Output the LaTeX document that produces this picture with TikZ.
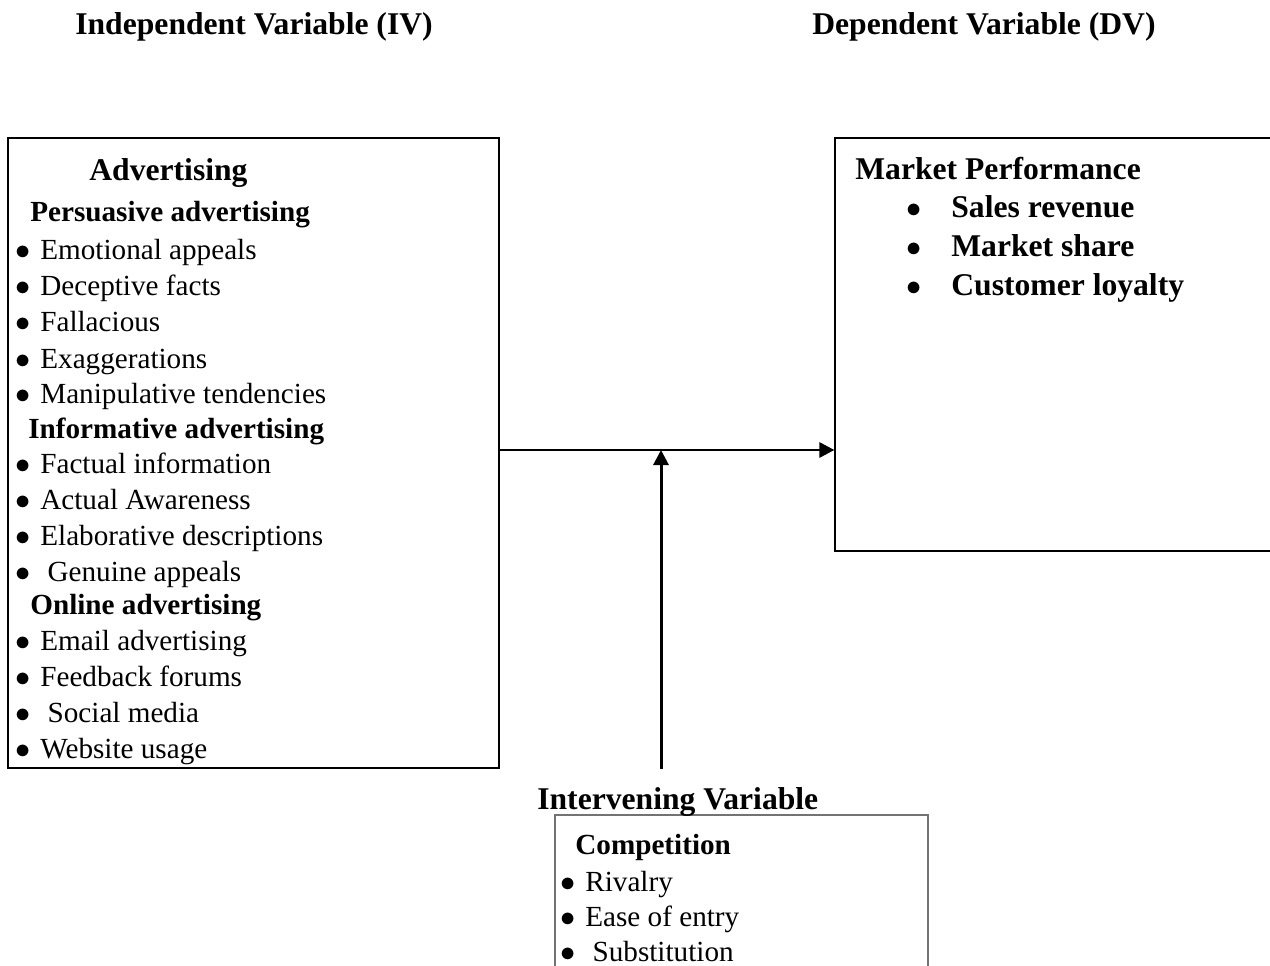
\documentclass[tikz,border=0pt]{standalone}
\usepackage{fontspec}
\setmainfont{Liberation Serif}
\usetikzlibrary{arrows.meta}
\newcommand{\blt}{\makebox[0.5cm][l]{$\bullet$}}
\newcommand{\bltr}{\makebox[0.9cm][l]{$\bullet$}}
\tikzset{
  box1/.style = {
    shape = rectangle,
    draw = black,
    line width = 0.9pt,
    inner sep = 0pt,
  }
}
\tikzset{
  title1/.style = {anchor = base west, inner sep = 0pt, font = \fontsize{18}{21}\selectfont\bfseries},
  head1/.style = {anchor = base west, inner sep = 0pt, font = \fontsize{16.6}{20}\selectfont\bfseries},
  item1/.style = {anchor = base west, inner sep = 0pt, font = \fontsize{16.6}{20}\selectfont},
}
\tikzset{
  arrow1/.style = {
    draw = black, line width = 1.7pt, -{Triangle[length = 3mm, width = 3mm]},
  }
}
\begin{document}
\begin{tikzpicture}
        \useasboundingbox (0,0) rectangle (25.4,-19.32);
        \node[box1, minimum width = 9.82cm, minimum height = 12.6cm](adv) at (5.07,-9.06){};
        \node[box1, line width = 0.7pt, minimum width = 9.3cm, minimum height = 8.26cm](perf) at (21.35,-6.89){};
        \node[box1, draw = black!55, line width = 0.6pt, minimum width = 7.46cm, minimum height = 3.7cm](comp) at (14.83,-18.15){};
        \node[title1](ivtitle) at (1.5,-0.70){Independent Variable (IV)};
        \node[title1](dvtitle) at (16.24,-0.70){Dependent Variable (DV)};
        \node[title1](advhead) at (1.78,-3.62){Advertising};
        \node[head1](pers) at (0.6,-4.44){Persuasive advertising};
        \node[item1](p1) at (0.3,-5.20){\blt Emotional appeals};
        \node[item1](p2) at (0.3,-5.92){\blt Deceptive facts};
        \node[item1](p3) at (0.3,-6.64){\blt Fallacious};
        \node[item1](p4) at (0.3,-7.36){\blt Exaggerations};
        \node[item1](p5) at (0.3,-8.08){\blt Manipulative tendencies};
        \node[head1](info) at (0.56,-8.76){Informative advertising};
        \node[item1](i1) at (0.3,-9.46){\blt Factual information};
        \node[item1](i2) at (0.3,-10.18){\blt Actual Awareness};
        \node[item1](i3) at (0.3,-10.90){\blt Elaborative descriptions};
        \node[item1](i4) at (0.3,-11.62){\blt\ Genuine appeals};
        \node[head1](onl) at (0.6,-12.28){Online advertising};
        \node[item1](o1) at (0.3,-13.00){\blt Email advertising};
        \node[item1](o2) at (0.3,-13.72){\blt Feedback forums};
        \node[item1](o3) at (0.3,-14.44){\blt\ Social media};
        \node[item1](o4) at (0.3,-15.16){\blt Website usage};
        \node[title1](mp) at (17.10,-3.60){Market Performance};
        \node[title1](m1) at (18.12,-4.36){\bltr Sales revenue};
        \node[title1](m2) at (18.12,-5.14){\bltr Market share};
        \node[title1](m3) at (18.12,-5.92){\bltr Customer loyalty};
        \node[title1](intv) at (10.74,-16.18){Intervening Variable};
        \node[head1](cmp) at (11.5,-17.08){Competition};
        \node[item1](c1) at (11.2,-17.82){\blt Rivalry};
        \node[item1](c2) at (11.2,-18.52){\blt Ease of entry};
        \node[item1](c3) at (11.2,-19.22){\blt\ Substitution};
        \coordinate (meet) at (13.22,-9.0);
        \draw[arrow1](meet -| adv.east) -- (meet -| perf.west);
        \draw[arrow1](meet |- adv.south) -- (meet);
\end{tikzpicture}
\end{document}
